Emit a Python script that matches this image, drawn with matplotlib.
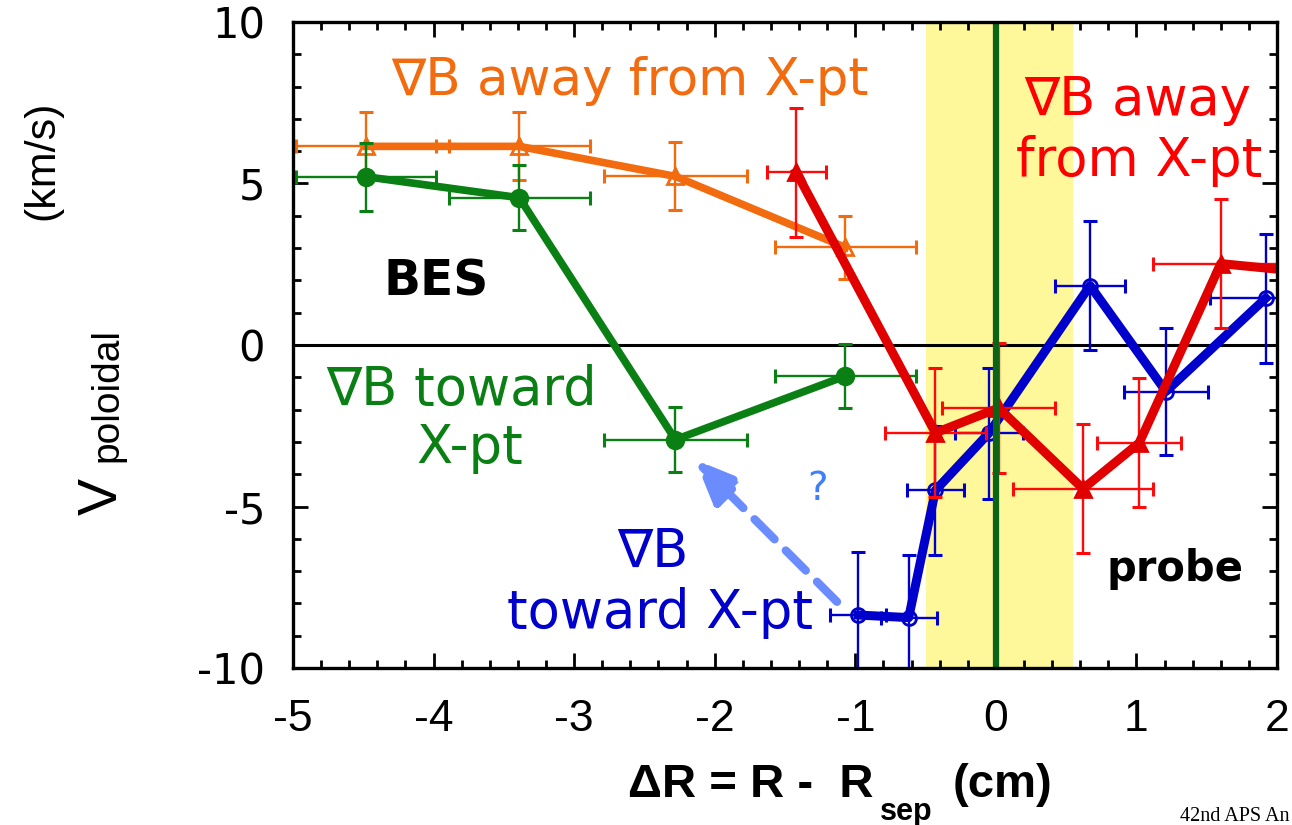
import matplotlib
matplotlib.use("Agg")
import matplotlib.pyplot as plt
from matplotlib.ticker import MultipleLocator

plt.rcParams["axes.unicode_minus"] = False

# --- BES, grad-B away from X-point (open triangles) ---
bes_away_x = [-4.48, -3.39, -2.28, -1.07]
bes_away_y = [6.15, 6.15, 5.22, 3.02]
bes_away_xerr = [0.5, 0.5, 0.51, 0.5]
bes_away_yerr = [1.05, 1.05, 1.05, 0.97]

# --- BES, grad-B toward X-point (filled circles) ---
bes_toward_x = [-4.48, -3.39, -2.28, -1.07]
bes_toward_y = [5.21, 4.56, -2.93, -0.96]
bes_toward_xerr = [0.5, 0.5, 0.51, 0.5]
bes_toward_yerr = [1.05, 1.0, 1.0, 1.0]

# --- probe, grad-B away from X-point (filled triangles) ---
probe_away_x = [-1.42, -0.43, 0.02, 0.62, 1.02, 1.60, 2.30]
probe_away_y = [5.35, -2.72, -1.95, -4.45, -3.03, 2.52, 2.22]
probe_away_xerr = [0.21, 0.36, 0.4, 0.5, 0.3, 0.48, 0.25]
probe_away_yerr = [2.0, 2.0, 2.0, 2.0, 2.0, 2.0, 0.0]

# --- probe, grad-B toward X-point (open circles) ---
probe_toward_x = [-0.98, -0.62, -0.43, -0.05, 0.67, 1.21, 1.92]
probe_toward_y = [-8.36, -8.44, -4.5, -2.73, 1.84, -1.44, 1.45]
probe_toward_xerr = [0.2, 0.2, 0.2, 0.24, 0.25, 0.3, 0.4]
probe_toward_yerr = [1.95, 1.95, 2.0, 2.03, 2.0, 1.97, 2.0]

# shaded band around the separatrix
band_lo, band_hi = -0.5, 0.55

x_ticks = [-5, -4, -3, -2, -1, 0, 1, 2]
y_ticks = [-10, -5, 0, 5, 10]

ORANGE = "#F26B0F"
GREEN = "#0A7F14"
RED_LINE = "#E00000"
RED_ERR = "#FF0A0A"
BLUE = "#0000CC"
LIGHT_BLUE = "#6A8CFF"

W, H = 1292, 825
fig = plt.figure(figsize=(W / 100, H / 100), dpi=100)
ax = fig.add_axes([293 / W, 1 - 668 / H, (1277 - 293) / W, (668 - 22) / H])

ax.set_xlim(-5, 2)
ax.set_ylim(-10, 10)

ax.axvspan(band_lo, band_hi, color="#FFF89A", zorder=0, lw=0)
ax.axhline(0, color="black", lw=2.2, zorder=1)


def series(x, y, xerr, yerr, color, ecolor, lw, marker, ms, filled, z):
    ax.errorbar(x, y, xerr=xerr, yerr=yerr, fmt="none", ecolor=ecolor,
                elinewidth=1.7, capsize=5, capthick=2.2, zorder=z)
    ax.plot(x, y, color=color, lw=lw, zorder=z + 0.1, solid_joinstyle="round")
    ax.plot(x, y, linestyle="none", marker=marker, ms=ms,
            markerfacecolor=(color if filled else "none"),
            markeredgecolor=color, markeredgewidth=2.0, zorder=z + 0.2)


series(bes_away_x, bes_away_y, bes_away_xerr, bes_away_yerr,
       ORANGE, ORANGE, 5.5, "^", 11, False, 3)
series(bes_toward_x, bes_toward_y, bes_toward_xerr, bes_toward_yerr,
       GREEN, GREEN, 5.5, "o", 12, True, 4)
series(probe_toward_x, probe_toward_y, probe_toward_xerr, probe_toward_yerr,
       BLUE, BLUE, 6.5, "o", 10, False, 5)
series(probe_away_x, probe_away_y, probe_away_xerr, probe_away_yerr,
       RED_LINE, RED_ERR, 6.5, "^", 12, True, 6)

ax.axvline(0, color="#0B6418", lw=4.5, zorder=8)

# dashed arrow suggesting the link between the two "toward" datasets
ax.annotate("", xy=(-2.14, -3.55), xytext=(-1.13, -7.95),
            arrowprops=dict(arrowstyle="-|>,head_length=2.6,head_width=1.1",
                            color=LIGHT_BLUE, lw=6, linestyle=(0, (3.4, 1.9)),
                            shrinkA=0, shrinkB=0),
            zorder=7)

# axes styling
for s in ax.spines.values():
    s.set_linewidth(2.4)
    s.set_zorder(10)
ax.set_xticks(x_ticks)
ax.set_yticks(y_ticks)
ax.xaxis.set_minor_locator(MultipleLocator(0.2))
ax.yaxis.set_minor_locator(MultipleLocator(1))
ax.tick_params(which="both", direction="in", top=True, right=True, width=2.0)
ax.tick_params(which="major", length=11)
ax.tick_params(which="minor", length=6)
ax.tick_params(axis="x", which="major", pad=22, labelsize=32)
ax.tick_params(axis="y", which="major", pad=20, labelsize=30)
for lab in ax.get_xticklabels():
    lab.set_fontfamily("Liberation Sans")
for lab in ax.get_yticklabels():
    lab.set_fontfamily("DejaVu Sans")


def ftext(px, py, s, **kw):
    fig.text(px / W, 1 - py / H, s, **kw)


# curve annotations
ANN = dict(ha="center", va="baseline", family="DejaVu Sans")
ftext(630, 95, "\u2207B away from X-pt", color=ORANGE, fontsize=37, **ANN)
ftext(1138, 115, "\u2207B away", color="#FF0000", fontsize=38, **ANN)
ftext(1139, 176, "from X-pt", color="#FF0000", fontsize=38, **ANN)
ftext(461, 405, "\u2207B toward", color=GREEN, fontsize=38, **ANN)
ftext(470, 463, "X-pt", color=GREEN, fontsize=38, **ANN)
ftext(653, 567, "\u2207B", color=BLUE, fontsize=38, **ANN)
ftext(660, 628, "toward X-pt", color=BLUE, fontsize=38, **ANN)
ftext(818, 500, "?", color="#3F7FFF", fontsize=28, **ANN)
ftext(436, 295, "BES", color="black", fontsize=35, fontweight="bold", **ANN)
ftext(1175, 581, "probe", color="black", fontsize=30, fontweight="bold", **ANN)

# axis titles
ftext(628, 797, "\u0394R = R -  R", fontsize=34, fontweight="bold",
      ha="left", va="baseline", family="Liberation Sans")
ftext(880, 820, "sep", fontsize=22, fontweight="bold",
      ha="left", va="baseline", family="Liberation Sans")
ftext(953, 797, "(cm)", fontsize=34, fontweight="bold",
      ha="left", va="baseline", family="Liberation Sans")

fig.text(42 / W, 1 - 160 / H, "(km/s)", rotation=90, fontsize=31,
         ha="center", va="center", family="Liberation Sans")
fig.text(117 / W, 1 - 515 / H, "V", rotation=90, rotation_mode="anchor",
         fontsize=40, ha="left", va="baseline", family="Liberation Sans")
fig.text(117 / W, 1 - 462 / H, "poloidal", rotation=90, rotation_mode="anchor",
         fontsize=28, ha="left", va="baseline", family="Liberation Sans")

ftext(1180, 821, "42nd APS An", fontsize=14.5, ha="left", va="baseline",
      family="Liberation Serif")

fig.savefig("out.png", dpi=100)
